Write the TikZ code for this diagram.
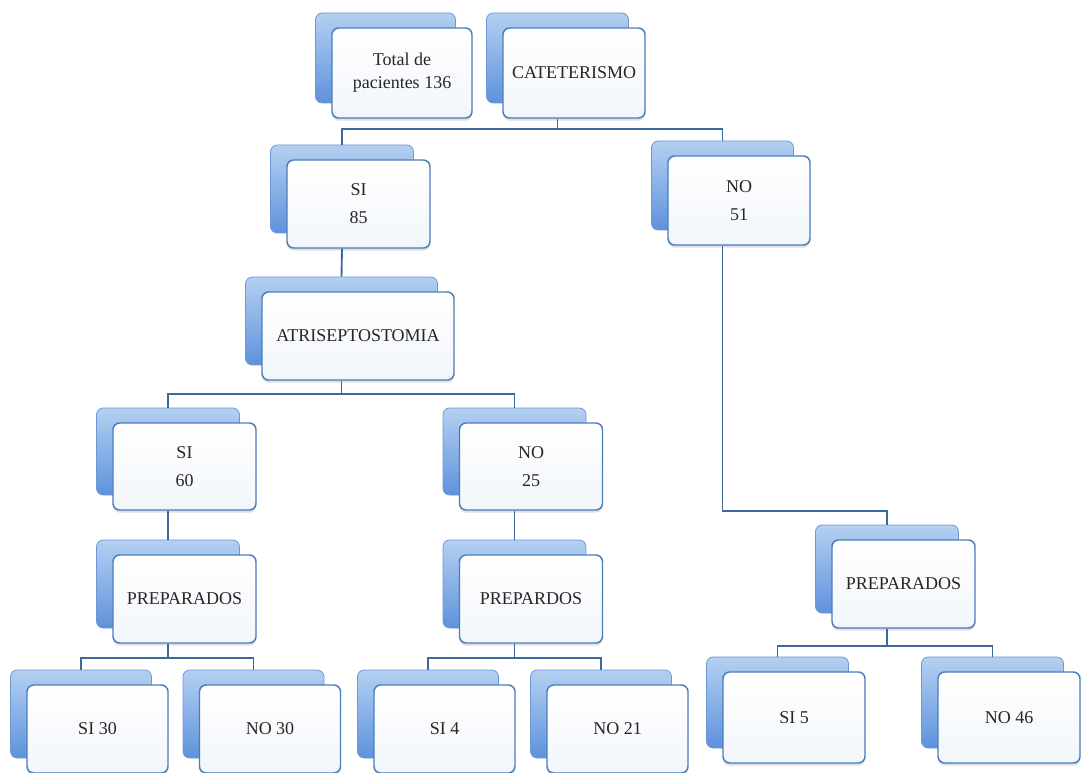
\documentclass[tikz,border=0pt]{standalone}
\usepackage{fontspec}
\setmainfont{Liberation Serif}
\usetikzlibrary{shadows}
\definecolor{backtop}{HTML}{B4D0F2}
\definecolor{backbot}{HTML}{5E92DC}
\definecolor{backline}{HTML}{6D98D4}
\definecolor{frontline}{HTML}{4A7EBB}
\definecolor{frontfill}{HTML}{F2F6FB}
\definecolor{conn}{HTML}{3D6A9E}
\definecolor{txt}{HTML}{262626}
\tikzset{
  backbox/.style={draw=backline, line width=0.6pt, rounded corners=5pt, top color=backtop, bottom color=backbot, inner sep=0pt},
  frontbox/.style={draw=frontline, line width=1.1pt, rounded corners=5pt, top color=white, bottom color=frontfill, inner sep=2pt, align=center, text=txt, font=\fontsize{13.5}{17}\selectfont,
    drop shadow={shadow xshift=0pt, shadow yshift=-2pt, opacity=0.25}},
  link/.style={draw=conn, line width=1.4pt}
}
\newcommand\stackbox[6]{%
  \node[backbox, minimum width={#4*0.75pt}, minimum height={#5*0.75pt}] (#1b) at (#2-16.5,#3-15) {};
  \node[frontbox, minimum width={#4*0.75pt}, minimum height={#5*0.75pt}] (#1) at (#2,#3) {#6};
}
\begin{document}
\begin{tikzpicture}[x=0.75pt,y=-0.75pt]
\useasboundingbox[fill=white] (0,0) rectangle (1081,773);
\stackbox{tot}{402}{73}{140}{90}{Total de\\pacientes 136}
\stackbox{cat}{574}{73}{142}{90}{CATETERISMO}
\stackbox{sia}{358.5}{204}{143}{88}{SI\\[4pt]85}
\stackbox{noa}{739}{200.5}{142}{89}{NO\\[4pt]51}
\stackbox{atr}{358}{336}{192}{88}{ATRISEPTOSTOMIA}
\stackbox{sib}{184.5}{466.5}{143}{87}{SI\\[4pt]60}
\stackbox{nob}{531}{466.5}{143}{87}{NO\\[4pt]25}
\stackbox{prl}{184.5}{599}{143}{88}{PREPARADOS}
\stackbox{prm}{531}{599}{143}{88}{PREPARDOS}
\stackbox{prr}{903.5}{584}{143}{88}{PREPARADOS}
\stackbox{sic}{97.5}{729}{141}{88}{SI 30}
\stackbox{noc}{270}{729}{141}{88}{NO 30}
\stackbox{sid}{444.5}{729}{141}{88}{SI 4}
\stackbox{nod}{617.5}{729}{141}{88}{NO 21}
\stackbox{sie}{794}{717.5}{142}{91}{SI 5}
\stackbox{noe}{1009}{717.5}{142}{91}{NO 46}
% connectors
\path[link] (catb.south |- cat.south) -- ++(0,10) -| (siab.north);
\path[link] (catb.south |- cat.south) -- ++(0,10) -| (noab.north);
\path[link] (siab.south |- sia.south) -- (atrb.north);
\path[link] (atrb.south |- atr.south) -- ++(0,13) -| (sibb.north);
\path[link] (atrb.south |- atr.south) -- ++(0,13) -| (nobb.north);
\path[link] (sibb.south |- sib.south) -- (prlb.north);
\path[link] (nobb.south |- nob.south) -- (prmb.north);
\path[link] (noab.south |- noa.south) -- ++(0,265) -| (prrb.north);
\path[link] (prlb.south |- prl.south) -- ++(0,14) -| (sicb.north);
\path[link] (prlb.south |- prl.south) -- ++(0,14) -| (nocb.north);
\path[link] (prmb.south |- prm.south) -- ++(0,14) -| (sidb.north);
\path[link] (prmb.south |- prm.south) -- ++(0,14) -| (nodb.north);
\path[link] (prrb.south |- prr.south) -- ++(0,17) -| (sieb.north);
\path[link] (prrb.south |- prr.south) -- ++(0,17) -| (noeb.north);
\end{tikzpicture}
\end{document}
